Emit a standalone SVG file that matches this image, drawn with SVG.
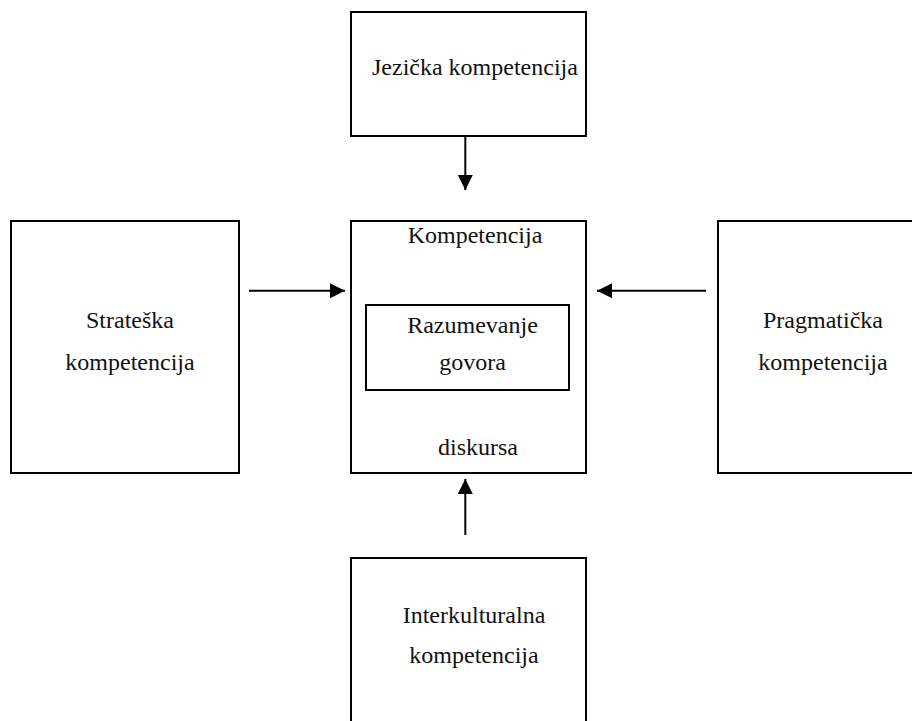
<svg xmlns="http://www.w3.org/2000/svg" width="912" height="721" viewBox="0 0 912 721">
<style>
.box{fill:#fff;stroke:#000;stroke-width:2}
.c{stroke:#000;stroke-width:2;fill:none}
</style>
<defs>
<marker id="ah" markerUnits="userSpaceOnUse" markerWidth="16" markerHeight="16" refX="15" refY="7.5" orient="auto">
<path d="M0,0 L15,7.5 L0,15 Z" fill="#000"/>
</marker>
</defs>
<rect width="912" height="721" fill="#fff"/>
<g font-family="Liberation Serif, Times New Roman, serif" font-size="24" fill="#111" text-anchor="middle">
<g id="jezicka">
<rect class="box" x="351" y="12" width="235" height="124"/>
<text x="372" y="75" text-anchor="start">Jezička kompetencija</text>
</g>
<g id="strateska">
<rect class="box" x="11" y="221" width="228" height="252"/>
<text x="130" y="328">Strateška</text>
<text x="130" y="370">kompetencija</text>
</g>
<g id="kompetencija">
<rect class="box" x="351" y="221" width="235" height="252"/>
<text x="475" y="243">Kompetencija</text>
<text x="478" y="455">diskursa</text>
</g>
<g id="razumevanje">
<rect class="box" x="366" y="305" width="203" height="85"/>
<text x="472.5" y="333">Razumevanje</text>
<text x="472.5" y="370">govora</text>
</g>
<g id="pragmaticka">
<rect class="box" x="718" y="221" width="200" height="252"/>
<text x="823" y="328">Pragmatička</text>
<text x="823" y="370">kompetencija</text>
</g>
<g id="interkulturalna">
<rect class="box" x="351" y="558" width="235" height="170"/>
<text x="474" y="623">Interkulturalna</text>
<text x="474" y="663">kompetencija</text>
</g>
</g>
<g id="connectors">
<line class="c" x1="465.3" y1="136" x2="465.3" y2="190" marker-end="url(#ah)"/>
<line class="c" x1="249" y1="290.7" x2="345" y2="290.7" marker-end="url(#ah)"/>
<line class="c" x1="706" y1="290.7" x2="597" y2="290.7" marker-end="url(#ah)"/>
<line class="c" x1="465.3" y1="535" x2="465.3" y2="479" marker-end="url(#ah)"/>
</g>
</svg>
